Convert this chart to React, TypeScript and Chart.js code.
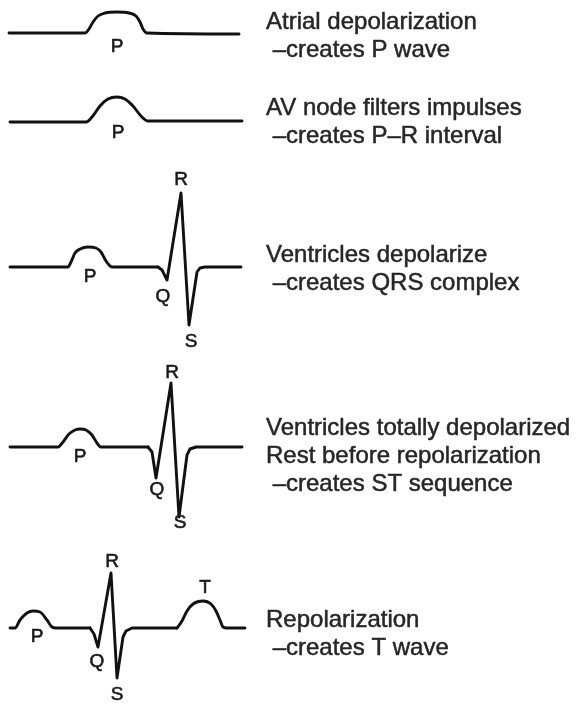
import React, { useEffect, useRef } from "react";
import { Chart, registerables } from "chart.js";

Chart.register(...registerables);

type Pt = [number, number];

// ---- Waveform traces (x, y in the diagram's own units; y grows downward) ----
// Wave 1: atrial depolarization (P wave)
const wave1P: Pt[] = [
  [9, 33], [85, 33], [89, 29], [93, 22], [98, 16], [105, 13], [117, 12],
  [129, 13], [136, 16], [140, 22], [143, 29], [147, 33], [239, 34],
];
// Wave 2: P–R interval
const wave2P: Pt[] = [
  [10, 122], [86, 122], [92, 117], [100, 106], [108, 99], [117, 97],
  [125, 99], [133, 106], [141, 116], [148, 121], [242, 121],
];
// Wave 3: QRS complex
const wave3P: Pt[] = [
  [10, 267], [68, 267], [71, 262], [75, 253], [80, 249], [88, 247],
  [96, 248], [101, 252], [106, 261], [110, 266], [113, 267], [158, 267],
];
const wave3QRS: Pt[] = [
  [158, 267], [162, 270], [167, 280], [181, 193], [189, 325],
  [197, 272], [200, 268], [205, 267], [241, 267],
];
// Wave 4: ST segment
const wave4P: Pt[] = [
  [10, 447], [58, 447], [63, 442], [69, 434], [75, 430], [80, 429],
  [86, 430], [92, 435], [97, 443], [101, 447], [148, 447],
];
const wave4QRS: Pt[] = [
  [148, 447], [152, 452], [156, 478], [171, 383], [179, 517],
  [187, 455], [190, 449], [196, 447], [242, 447],
];
// Wave 5: T wave
const wave5P: Pt[] = [
  [10, 628], [15, 628], [20, 620], [27, 613], [33, 611], [40, 612],
  [47, 620], [52, 627], [56, 628], [90, 628],
];
const wave5QRS: Pt[] = [
  [90, 628], [94, 634], [98, 647], [111, 573], [117, 678],
  [123, 637], [126, 631], [132, 628], [177, 628],
];
const wave5T: Pt[] = [
  [177, 628], [182, 621], [187, 611], [193, 604], [203, 601], [211, 604],
  [216, 611], [220, 620], [223, 627], [227, 628], [245, 628],
];

const smoothSegments: Pt[][] = [wave1P, wave2P, wave3P, wave4P, wave5P, wave5T];
const sharpSegments: Pt[][] = [wave3QRS, wave4QRS, wave5QRS];

// ---- Wave letters (anchored in diagram units) ----
const letterTexts: string[] = [
  "P", "P",
  "R", "P", "Q", "S",
  "R", "P", "Q", "S",
  "R", "T", "P", "Q", "S",
];
const letterX: number[] = [117, 118, 181, 90, 163, 191, 172, 80, 157, 180, 112, 205, 37, 97, 117];
const letterY: number[] = [47, 133, 180, 277, 297, 342, 373, 457, 490, 523, 562, 588, 637, 662, 695];

// ---- Descriptions ----
const descLines: string[] = [
  "Atrial depolarization",
  " –creates P wave",
  "AV node filters impulses",
  " –creates P–R interval",
  "Ventricles depolarize",
  " –creates QRS complex",
  "Ventricles totally depolarized",
  "Rest before repolarization",
  " –creates ST sequence",
  "Repolarization",
  " –creates T wave",
];
const descBaselines: number[] = [29, 57, 115, 143, 262, 290, 435, 463, 491, 627, 655];
const descX = 266;

const textPlugin = {
  id: "ecgText",
  afterDatasetsDraw(chart: any) {
    const { ctx, scales } = chart;
    const sx = scales.x;
    const sy = scales.y;
    ctx.save();
    ctx.fillStyle = "#1a1a1a";
    ctx.strokeStyle = "#1a1a1a";
    ctx.lineWidth = 0.6;
    ctx.lineJoin = "round";
    ctx.font = '19px "Liberation Sans", Arial, sans-serif';
    ctx.textAlign = "center";
    ctx.textBaseline = "middle";
    letterTexts.forEach((t, i) => {
      const px = sx.getPixelForValue(letterX[i]);
      const py = sy.getPixelForValue(letterY[i]);
      ctx.fillText(t, px, py);
      ctx.strokeText(t, px, py);
    });
    ctx.fillStyle = "#262626";
    ctx.strokeStyle = "#262626";
    ctx.lineWidth = 0.5;
    ctx.font = '24px "Liberation Sans", Arial, sans-serif';
    ctx.textAlign = "left";
    ctx.textBaseline = "alphabetic";
    descLines.forEach((t, i) => {
      const px = sx.getPixelForValue(descX);
      const py = sy.getPixelForValue(descBaselines[i]);
      ctx.fillText(t, px, py);
      ctx.strokeText(t, px, py);
    });
    ctx.restore();
  },
};

export default function App() {
  const ref = useRef<HTMLCanvasElement | null>(null);
  useEffect(() => {
    if (!ref.current) return;
    const mk = (pts: Pt[], smooth: boolean) => ({
      data: pts.map(([x, y]) => ({ x, y })),
      borderColor: "#111111",
      borderWidth: 2.9,
      pointRadius: 0,
      fill: false,
      tension: smooth ? 0.4 : 0,
      cubicInterpolationMode: smooth ? ("monotone" as const) : ("default" as const),
      borderCapStyle: "round" as const,
      borderJoinStyle: "round" as const,
      clip: false as any,
    });
    const chart = new Chart(ref.current, {
      type: "line",
      data: {
        datasets: [
          ...smoothSegments.map((s) => mk(s, true)),
          ...sharpSegments.map((s) => mk(s, false)),
        ],
      },
      options: {
        responsive: false,
        animation: false,
        layout: { padding: 0 },
        plugins: { legend: { display: false }, tooltip: { enabled: false } },
        events: [],
        scales: {
          x: { type: "linear", min: 0, max: 576, display: false },
          y: { type: "linear", min: 0, max: 706, reverse: true, display: false },
        },
      },
      plugins: [textPlugin],
    });
    return () => chart.destroy();
  }, []);
  return (
    <div style={{ position: "absolute", left: 0, top: 0, width: 576, height: 706, background: "#fff" }}>
      <canvas ref={ref} width={576} height={706} style={{ display: "block" }} />
    </div>
  );
}
